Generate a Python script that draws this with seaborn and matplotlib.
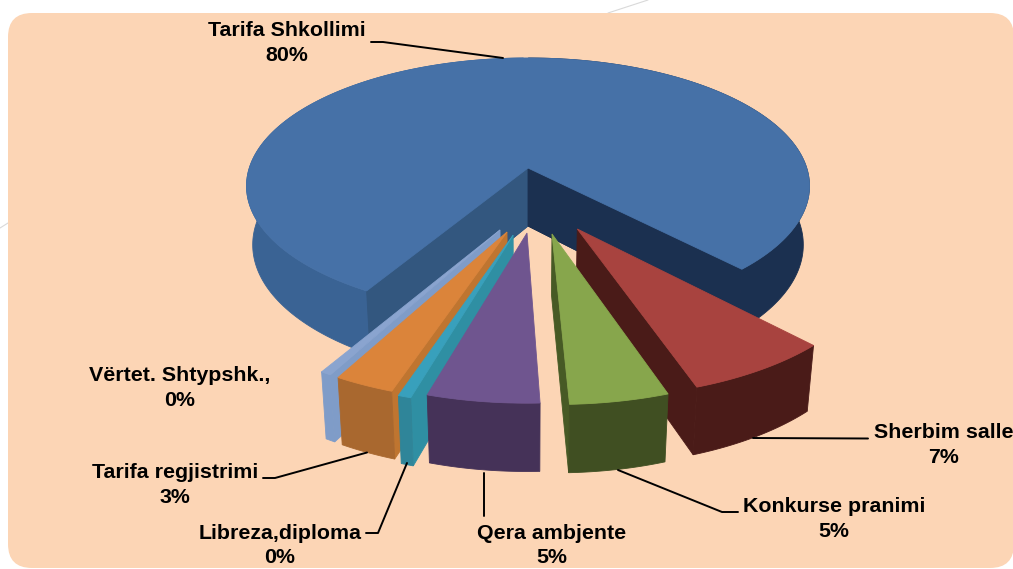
import numpy as np
import matplotlib
matplotlib.use("Agg")
import matplotlib.pyplot as plt
from matplotlib.patches import FancyBboxPatch
import seaborn as sns

# ---- data ----
categories = ["Tarifa Shkollimi", "Sherbim salle", "Konkurse pranimi", "Qera ambjente",
              "Libreza,diploma", "Tarifa regjistrimi", "Vërtet. Shtypshk.,"]
shares = [79.4, 6.9, 4.6, 5.2, 0.6, 2.8, 0.5]
printed_percent = [80, 7, 5, 5, 0, 3, 0]

# ---- style / layout ----
top_colors = ["#4671A7", "#A8433F", "#87A64C", "#6F558F", "#38A0BC", "#DB843A", "#8AA4CF"]
wall_colors = ["#3A6394", "#4A1B18", "#404F22", "#453258", "#2F8599", "#A9682F", "#7F9CC8"]
face_colors = ["#33577F", "#4A1B18", "#475A25", "#453258", "#2F8FA3", "#BF7530", "#7F9CC8"]
explode = [0.0, 0.484, 0.496, 0.483, 0.50, 0.481, 0.471]
bearing = [0.0, 70.0, 80.7, 90.4, 95.7, 98.4, 101.5]
draw_order = [0, 1, 2, 6, 5, 4, 3]
first_angle = 120.6
navy = "#1B3050"

cx, cy = 528.0, 168.0
A, B, P = 278.7, 125.5, 0.1406
X_SHRINK, Y_STRETCH, DEPTH = 0.978, 1.044, 58.0

sns.set_theme(style="white")
plt.rcParams["font.family"] = ["Liberation Sans", "DejaVu Sans"]
top_pal = sns.color_palette(top_colors)
wall_pal = sns.color_palette(wall_colors)
face_pal = sns.color_palette(face_colors)

fig = plt.figure(figsize=(10.13, 5.69), dpi=100, facecolor="white")
ax = fig.add_axes([0, 0, 1, 1])
ax.set_xlim(0, 1013)
ax.set_ylim(569, 0)
ax.axis("off")

# background
ax.plot([608, 648], [13, 0], color="#D9D9D9", lw=0.8, zorder=0)
ax.plot([0, 8], [228, 223], color="#D9D9D9", lw=0.8, zorder=0)
ax.add_patch(FancyBboxPatch((8 + 24, 13 + 24), 1014 - 8 - 48, 568 - 13 - 48,
                            boxstyle="round,pad=24,rounding_size=24",
                            fc="#FCD5B5", ec="none", zorder=0.5))


def project(u, v):
    w = 1 - P * v
    return cx + A * u / w, cy + B * v / w


def drop(x, y):
    return cx + (x - cx) * X_SHRINK, cy + (y - cy) * Y_STRETCH + DEPTH


def poly(xs, ys, color, z):
    ax.fill(xs, ys, color=color, lw=0.6, zorder=z)


z = 1.0
angles = np.cumsum([0] + [s * 3.6 for s in shares]) + first_angle
for i in draw_order:
    a0, a1 = np.radians(angles[i]), np.radians(angles[i + 1])
    ou = explode[i] * np.cos(np.radians(bearing[i]))
    ov = explode[i] * np.sin(np.radians(bearing[i]))
    t = np.linspace(a0, a1, 240)
    rx, ry = project(ou + np.cos(t), ov + np.sin(t))
    ax0, ay0 = project(ou, ov)
    bx, by = drop(rx, ry)
    abx, aby = drop(ax0, ay0)
    reflex = (a1 - a0) > np.pi

    # radial faces
    for (ex, ey, ox, oy, side) in ((rx[0], ry[0], rx[-1], ry[-1], 0),
                                   (rx[-1], ry[-1], rx[0], ry[0], 1)):
        dx, dy = ex - ax0, ey - ay0
        down = dx
        toward = dx * (oy - ay0) - dy * (ox - ax0)
        if reflex or (down * toward < 0):
            fbx, fby = drop(ex, ey)
            col = face_pal[i]
            if i == 0 and ex > cx:
                col = navy
            poly([ax0, ex, fbx, abx], [ay0, ey, fby, aby], col, z)
            z += 0.01

    # outer wall
    if i == 0:
        mid = (rx >= cx)
        for mask, col in ((~mid, wall_pal[0]), (mid, navy)):
            poly(np.r_[rx[mask], bx[mask][::-1]], np.r_[ry[mask], by[mask][::-1]], col, z)
            z += 0.01
        # keep the inner faces in front of the rim wall
        for (ex, ey, col) in ((rx[0], ry[0], face_pal[0]), (rx[-1], ry[-1], navy)):
            fbx, fby = drop(ex, ey)
            poly([ax0, ex, fbx, abx], [ay0, ey, fby, aby], col, z)
            z += 0.01
    else:
        poly(np.r_[rx, bx[::-1]], np.r_[ry, by[::-1]], wall_pal[i], z)
        z += 0.01

    # top face
    poly(np.r_[ax0, rx], np.r_[ay0, ry], top_pal[i], z)
    z += 0.01

# labels
label_pos = [(286.5, 43), (944, 445), (834, 519), (551.5, 545.5),
             (280, 545.5), (175, 485), (180, 388)]
for name, pct, (lx, ly) in zip(categories, printed_percent, label_pos):
    ax.text(lx, ly, f"{name}\n{pct}%", ha="center", va="center", fontsize=15.4,
            fontweight="bold", color="black", linespacing=1.38, zorder=20)

# leader lines
leaders = [([371, 383, 503], [42, 42, 58]),
           ([753, 868], [438, 438.5]),
           ([618, 722, 738], [470, 512, 512]),
           ([484, 484], [473, 516]),
           ([366, 378, 407], [533, 533, 463]),
           ([263, 275, 367], [478, 478, 452.5])]
for xs, ys in leaders:
    ax.plot(xs, ys, color="black", lw=1.4, solid_joinstyle="round", zorder=19)

fig.savefig("out.png", dpi=100, facecolor="white")
